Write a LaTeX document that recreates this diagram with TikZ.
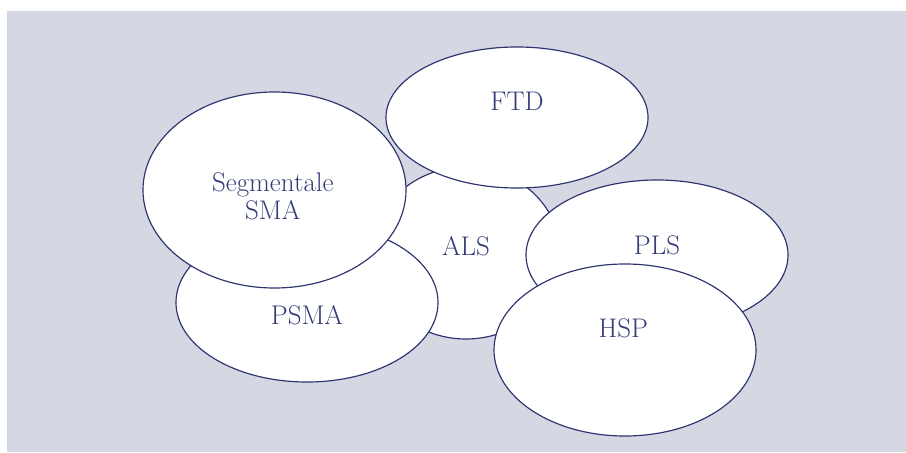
\documentclass[tikz,border=0pt]{standalone}
\usepackage{tikz}
\usetikzlibrary{shapes}
\usetikzlibrary{positioning}
\definecolor{linie}{RGB}{45,52,112}
\definecolor{schrift}{RGB}{52,60,120}
\definecolor{grund}{RGB}{213,215,227}
\tikzset{blase/.style={ellipse,draw=linie,line width=1pt,fill=white,inner sep=0pt},
	beschr/.style={text=schrift,font=\fontsize{23}{24}\selectfont,align=center}}

\begin{document}
\begin{tikzpicture}[x=0.03cm,y=-0.03cm]
	\useasboundingbox (0,0) rectangle (906,452);
	\fill[grund] (7,11) rectangle (906,452);
	
	\node[blase,minimum width=5.64cm,minimum height=5.16cm][label={[beschr,yshift=0.2cm]center:ALS}](ALS) at (466,253){};
	\node[blase,minimum width=7.86cm,minimum height=4.77cm][label={[beschr,yshift=-0.375cm]center:PSMA}](PSMA) at (307,302.5){};
	\node[blase,minimum width=7.89cm,minimum height=5.88cm][label={[beschr,yshift=-0.2cm,xshift=-0.05cm]center:Segmentale\\SMA}](SMA) at (274.5,190){};
	\node[blase,minimum width=7.86cm,minimum height=4.23cm][label={[beschr,yshift=0.48cm]center:FTD}](FTD) at (517,117.5){};
	\node[blase,minimum width=7.86cm,minimum height=4.5cm][label={[beschr,yshift=0.3cm]center:PLS}](PLS) at (657,255){};
	\node[blase,minimum width=7.86cm,minimum height=5.16cm][label={[beschr,yshift=0.66cm,xshift=-0.05cm]center:HSP}](HSP) at (625,350){};
\end{tikzpicture}
\end{document}
